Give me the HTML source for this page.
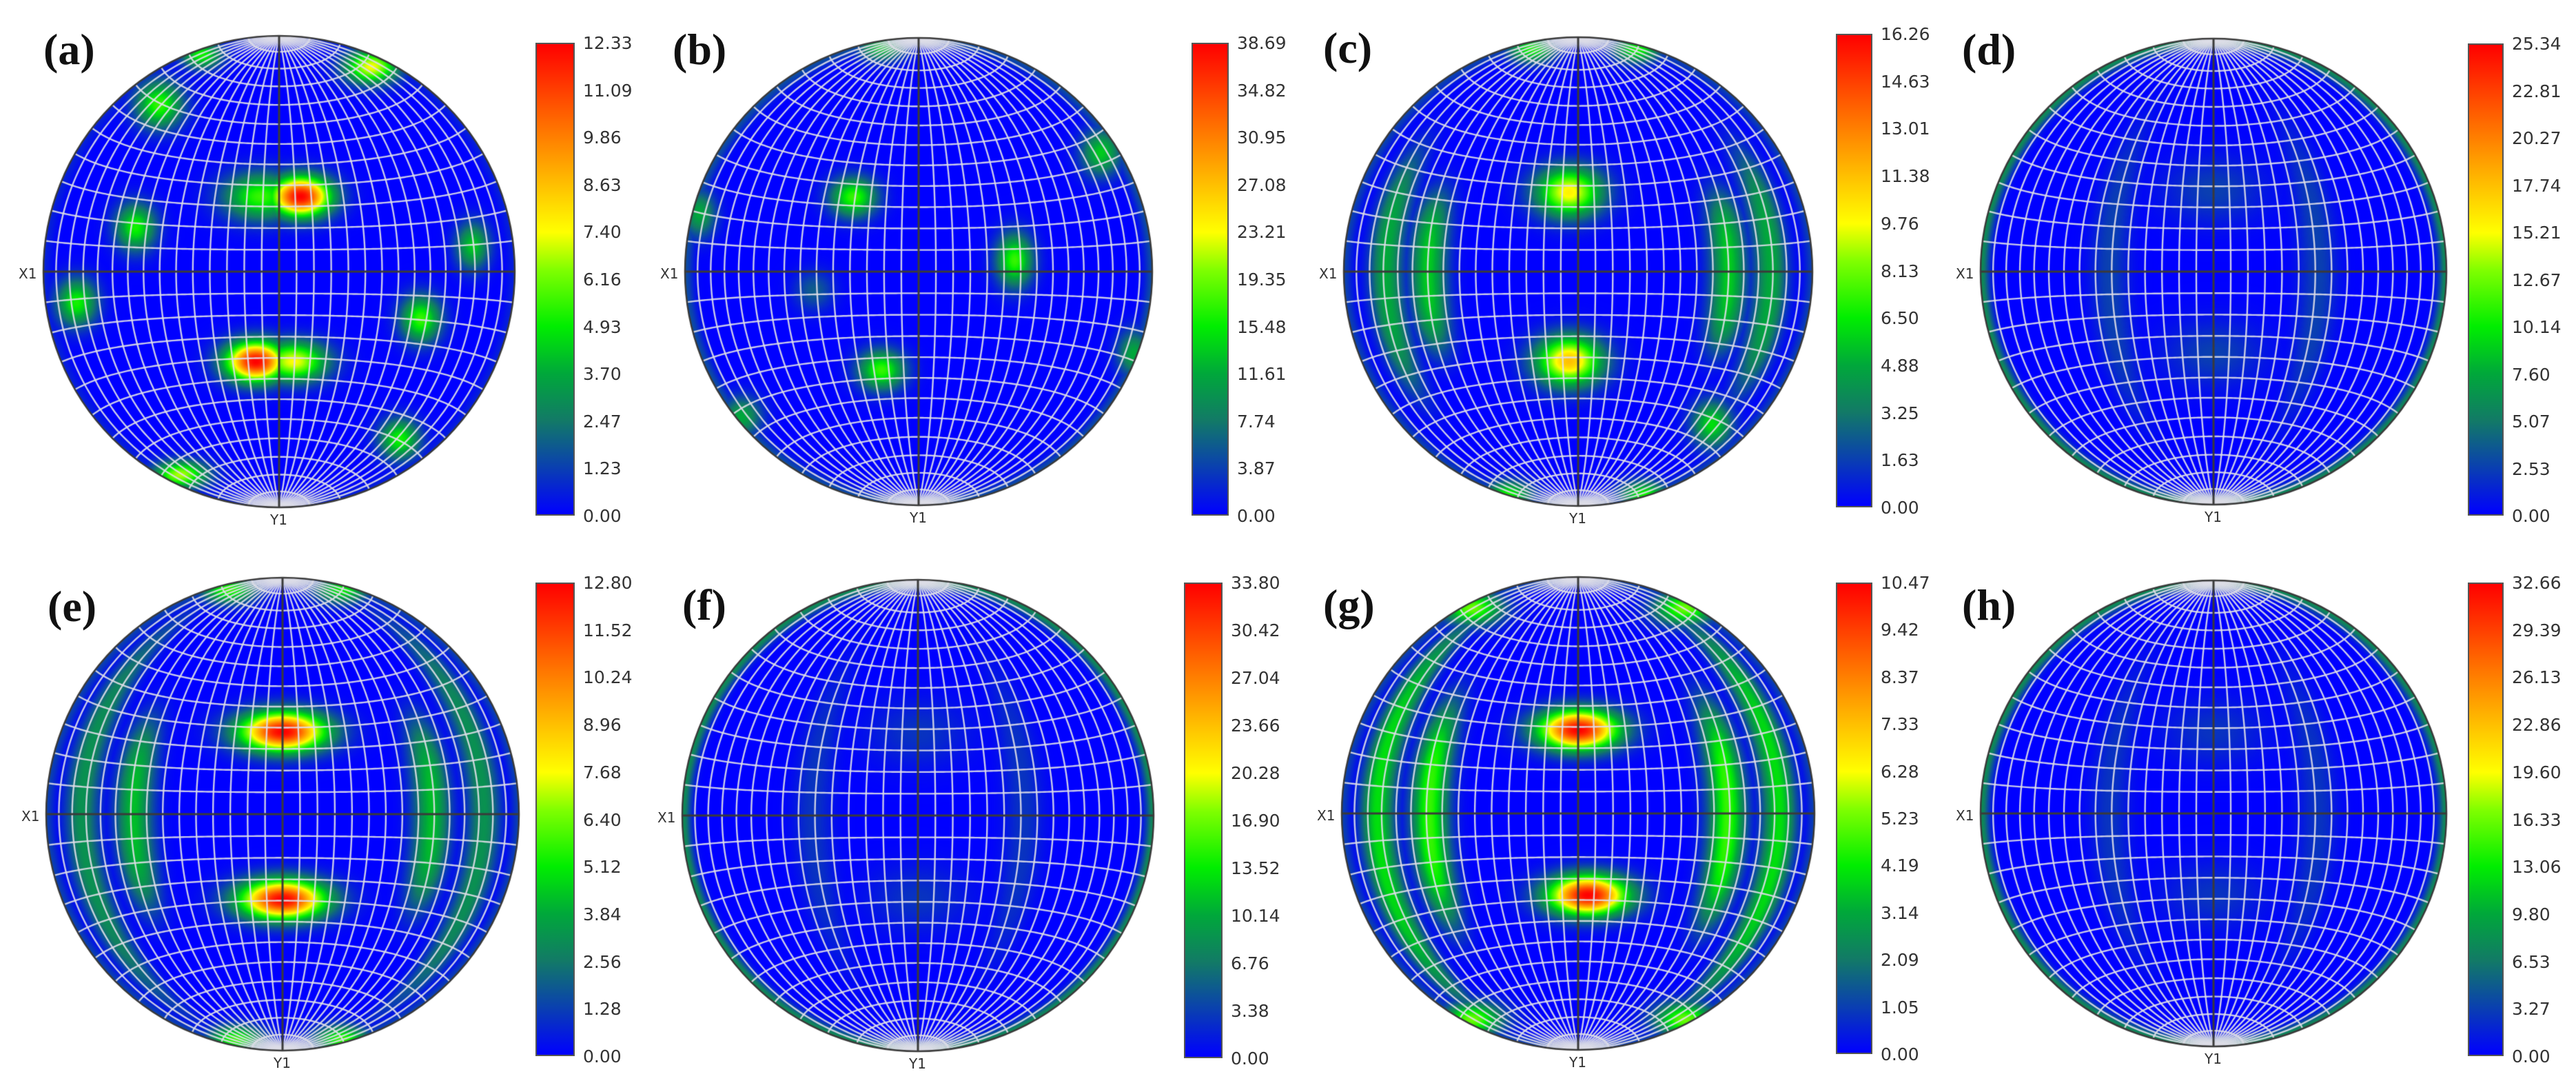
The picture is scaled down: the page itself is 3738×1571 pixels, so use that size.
<!DOCTYPE html>
<html><head><meta charset="utf-8"><style>
html,body{margin:0;padding:0;background:#fff;}
#root{position:relative;width:3738px;height:1571px;overflow:hidden;background:#fff;font-family:"DejaVu Sans","Liberation Sans",sans-serif;}
.pl{position:absolute;font-family:"Liberation Serif",serif;font-weight:bold;font-size:64px;color:#111;line-height:1;}
.cb{position:absolute;border:2px solid #555;box-sizing:border-box;background:linear-gradient(to top,#0000ff 0%,#0a40b0 10%,#127a66 20%,#00a83a 30%,#00ee00 40%,#80ff00 52%,#ffff00 60%,#ffc000 70%,#ff8000 80%,#ff4000 90%,#ff0000 100%);}
.tk{position:absolute;font-size:25px;color:#333;line-height:1;}
.ax{position:absolute;font-size:20px;color:#333;line-height:1;}
canvas{position:absolute;}
</style></head><body>
<div id="root"></div>
<script>
// ---- data ----
const panelIds = ['a','b','c','d','e','f','g','h'];
const maxValues = [12.33,38.69,16.26,25.34,12.80,33.80,10.47,32.66];
const tickLabels = [
 ['12.33','11.09','9.86','8.63','7.40','6.16','4.93','3.70','2.47','1.23','0.00'],
 ['38.69','34.82','30.95','27.08','23.21','19.35','15.48','11.61','7.74','3.87','0.00'],
 ['16.26','14.63','13.01','11.38','9.76','8.13','6.50','4.88','3.25','1.63','0.00'],
 ['25.34','22.81','20.27','17.74','15.21','12.67','10.14','7.60','5.07','2.53','0.00'],
 ['12.80','11.52','10.24','8.96','7.68','6.40','5.12','3.84','2.56','1.28','0.00'],
 ['33.80','30.42','27.04','23.66','20.28','16.90','13.52','10.14','6.76','3.38','0.00'],
 ['10.47','9.42','8.37','7.33','6.28','5.23','4.19','3.14','2.09','1.05','0.00'],
 ['32.66','29.39','26.13','22.86','19.60','16.33','13.06','9.80','6.53','3.27','0.00']
];
// blobs: x, y (map units, -1..1, y up), amplitude (fraction of max), sx, sy
const blobX = [
 [0.09,-0.08,-0.10,0.06,-0.51,0.39,-0.61,-0.86,0.82,0.60,0.51,-0.42,-0.33],
 [-0.28,-0.16,0.41,-0.45,-0.16,0.78,0.92,-0.94,-0.76],
 [-0.04,-0.04,0.57,-0.2,0.25,-0.3,0.28],
 [0.0,0.0],
 [0.0,0.0,-0.23,0.25,-0.2,0.25],
 [0.0,0.0],
 [0.0,0.04,-0.45,0.45,-0.45,0.45],
 [0.0,0.0]
];
const blobY = [
 [0.32,0.32,-0.38,-0.38,0.71,0.87,0.19,-0.13,0.11,-0.20,-0.71,-0.86,0.92],
 [0.32,-0.42,0.05,-0.08,0.96,0.51,-0.35,0.25,-0.62],
 [0.34,-0.38,-0.65,0.95,0.95,-0.95,-0.95],
 [0.35,-0.35],
 [0.35,-0.36,0.95,0.95,-0.95,-0.95],
 [0.35,-0.35],
 [0.355,-0.345,0.87,0.87,-0.87,-0.87],
 [0.35,-0.35]
];
const blobAmp = [
 [1.0,0.45,1.0,0.6,0.45,0.6,0.42,0.42,0.35,0.45,0.42,0.55,0.42],
 [0.45,0.45,0.45,0.15,0.35,0.35,0.3,0.3,0.3],
 [0.62,0.7,0.38,0.42,0.42,0.42,0.42],
 [0.1,0.1],
 [1.0,1.0,0.45,0.4,0.45,0.45],
 [0.08,0.08],
 [1.0,1.0,0.5,0.5,0.5,0.5],
 [0.08,0.08]
];
const blobSx = [
 [0.09,0.11,0.09,0.1,0.07,0.08,0.06,0.06,0.05,0.06,0.06,0.08,0.06],
 [0.07,0.07,0.055,0.06,0.07,0.06,0.05,0.05,0.06],
 [0.1,0.1,0.06,0.07,0.07,0.07,0.07],
 [0.15,0.15],
 [0.13,0.13,0.08,0.08,0.08,0.08],
 [0.15,0.15],
 [0.12,0.12,0.09,0.09,0.09,0.09],
 [0.15,0.15]
];
const blobSy = [
 [0.06,0.07,0.06,0.06,0.07,0.05,0.07,0.07,0.07,0.07,0.06,0.04,0.04],
 [0.06,0.06,0.08,0.06,0.04,0.07,0.07,0.07,0.06],
 [0.075,0.075,0.07,0.04,0.04,0.04,0.04],
 [0.1,0.1],
 [0.06,0.06,0.04,0.04,0.04,0.04],
 [0.1,0.1],
 [0.06,0.06,0.05,0.05,0.05,0.05],
 [0.1,0.1]
];
// meridian bands: longitude (deg), amplitude, lat half-extent (deg)
const bandLon = [[],[],[54,71],[37],[53,74],[37],[53,74],[37]];
const bandAmp = [[],[],[0.35,0.3],[0.1],[0.33,0.25],[0.08],[0.45,0.38],[0.08]];
const bandLat = [[],[],[25,35],[50],[30,60],[50],[35,60],[50]];
const rimAmp = [0.05,0.12,0.1,0.24,0.1,0.24,0.1,0.24];
// ---- layout ----
const L = {
 cx:[405,1333,2290,3212,410,1332,2290,3212],
 cy:[394,394,394,394,1181,1183,1180,1180],
 r:[342,339,340,338,343,342,343,338],
 bx:[777,1729,2664,3581,777,1718,2664,3581],
 bw:[57,54,53,52,57,56,53,52],
 by:[62,62,49,63,845,845,845,845],
 bb:[748,748,736,748,1532,1535,1529,1532],
 lx:[63,976,1920,2847,69,990,1920,2847],
 ly:[40,40,38,40,848,846,846,846]
};
const stops=[[0,0,0,255],[0.1,10,64,176],[0.2,18,122,102],[0.3,0,168,58],[0.4,0,238,0],[0.52,128,255,0],[0.6,255,255,0],[0.7,255,192,0],[0.8,255,128,0],[0.9,255,64,0],[1,255,0,0]];
function cmap(t){t=Math.max(0,Math.min(1,t));for(let i=1;i<stops.length;i++){if(t<=stops[i][0]){const a=stops[i-1],b=stops[i],f=(t-a[0])/(b[0]-a[0]);return [a[1]+(b[1]-a[1])*f,a[2]+(b[2]-a[2])*f,a[3]+(b[3]-a[3])*f];}}return [255,0,0];}
// Lambert equal-area (Schmidt) equatorial projection, normalized to unit radius
function proj(phi,lam){const k=Math.sqrt(2/(1+Math.cos(phi)*Math.cos(lam)))/Math.SQRT2;return [k*Math.cos(phi)*Math.sin(lam),k*Math.sin(phi)];}
function inv(x,y){const X=x*Math.SQRT2,Y=y*Math.SQRT2,rho=Math.hypot(X,Y);if(rho<1e-9)return [0,0];const c=2*Math.asin(Math.min(1,rho/2));return [Math.asin(Y*Math.sin(c)/rho),Math.atan2(X*Math.sin(c),rho*Math.cos(c))];}
const root=document.getElementById('root');
panelIds.forEach((id,p)=>{
 const cx=L.cx[p],cy=L.cy[p],R=L.r[p],pad=6,S=2*R+2*pad;
 const cv=document.createElement('canvas');
 
 
 cv.width=S;cv.height=S;cv.style.left=(cx-R-pad)+'px';cv.style.top=(cy-R-pad)+'px';
 root.appendChild(cv);
 const ctx=cv.getContext('2d');const img=ctx.createImageData(S,S);const d=img.data;
 for(let j=0;j<S;j++)for(let i=0;i<S;i++){
  const x=(i-pad-R)/R,y=-(j-pad-R)/R,rho=Math.hypot(x,y);
  if(rho>1.0)continue;
  let v=0;
  const bx=blobX[p],by=blobY[p],ba=blobAmp[p],sx=blobSx[p],sy=blobSy[p];
  for(let k=0;k<bx.length;k++){const dx=(x-bx[k])/sx[k],dy=(y-by[k])/sy[k];v=Math.max(v,ba[k]*Math.exp(-(dx*dx+dy*dy)/2));}
  if(bandLon[p].length){const q=inv(x,y),phi=q[0],lam=q[1];
   for(let k=0;k<bandLon[p].length;k++){const dl=(Math.abs(lam)*180/Math.PI-bandLon[p][k])/5;const la=Math.abs(phi*180/Math.PI)/bandLat[p][k];v=Math.max(v,bandAmp[p][k]*Math.exp(-dl*dl/2)*Math.exp(-Math.pow(la,4)));}}
  v=Math.max(v,rimAmp[p]*Math.exp(-Math.pow((1-rho)/0.035,2)));
  const col=cmap(v),o=(j*S+i)*4;d[o]=col[0];d[o+1]=col[1];d[o+2]=col[2];d[o+3]=255;}
 ctx.putImageData(img,0,0);
 const X=u=>pad+R+u*R,Y=w=>pad+R-w*R;
 ctx.save();ctx.beginPath();ctx.arc(pad+R,pad+R,R,0,2*Math.PI);ctx.clip();
 ctx.strokeStyle='rgba(222,222,232,0.9)';ctx.lineWidth=2.4;
 for(let lo=-84;lo<=84;lo+=6){if(lo===0)continue;ctx.beginPath();for(let la=-90;la<=90;la+=1){const q=proj(la*Math.PI/180,lo*Math.PI/180);la===-90?ctx.moveTo(X(q[0]),Y(q[1])):ctx.lineTo(X(q[0]),Y(q[1]));}ctx.stroke();}
 for(let la=-82.5;la<=82.5;la+=7.5){if(la===0)continue;ctx.beginPath();for(let lo=-90;lo<=90;lo+=1){const q=proj(la*Math.PI/180,lo*Math.PI/180);lo===-90?ctx.moveTo(X(q[0]),Y(q[1])):ctx.lineTo(X(q[0]),Y(q[1]));}ctx.stroke();}
 ctx.restore();
 ctx.strokeStyle='#3a3a3a';ctx.lineWidth=3;ctx.beginPath();ctx.moveTo(X(-1),Y(0));ctx.lineTo(X(1),Y(0));ctx.moveTo(X(0),Y(1));ctx.lineTo(X(0),Y(-1));ctx.stroke();
 ctx.lineWidth=2.5;ctx.beginPath();ctx.arc(pad+R,pad+R,R,0,2*Math.PI);ctx.stroke();
 const pl=document.createElement('div');pl.className='pl';pl.textContent='('+id+')';pl.style.left=L.lx[p]+'px';pl.style.top=L.ly[p]+'px';
 
 
 root.appendChild(pl);
 const x1=document.createElement('div');x1.className='ax';x1.textContent='X1';x1.style.left=(cx-R-36)+'px';x1.style.top=(cy-7)+'px';
 
 
 root.appendChild(x1);
 const y1=document.createElement('div');y1.className='ax';y1.textContent='Y1';y1.style.left=(cx-13)+'px';y1.style.top=(cy+R+8)+'px';
 
 
 root.appendChild(y1);
 const cb=document.createElement('div');cb.className='cb';cb.style.left=L.bx[p]+'px';cb.style.top=L.by[p]+'px';cb.style.width=L.bw[p]+'px';cb.style.height=(L.bb[p]-L.by[p])+'px';
 
 
 root.appendChild(cb);
 tickLabels[p].forEach((t,k)=>{const tk=document.createElement('div');tk.className='tk';tk.textContent=t;
  tk.style.left=(L.bx[p]+L.bw[p]+12)+'px';tk.style.top=(L.by[p]+(L.bb[p]-L.by[p])*k/10-12)+'px';
  
  
  root.appendChild(tk);});
});
</script>
</body></html>
